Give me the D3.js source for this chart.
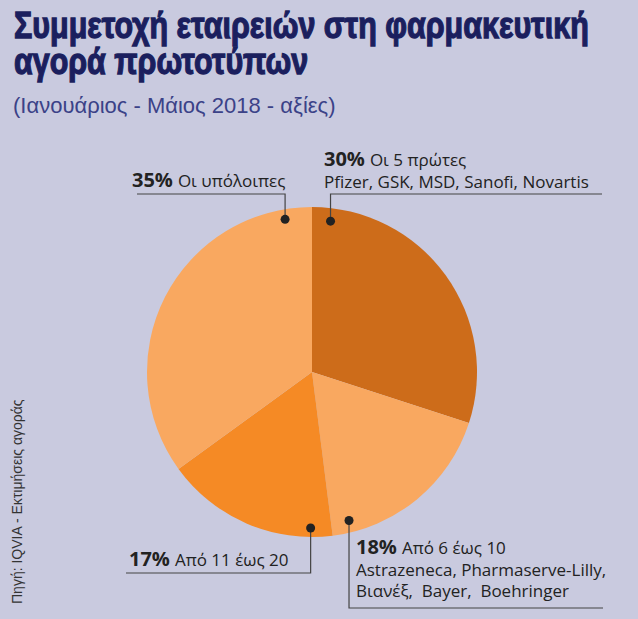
<!DOCTYPE html>
<html>
<head>
<meta charset="utf-8">
<script src="https://cdn.jsdelivr.net/npm/d3@7"></script>
<style>
  body { margin: 0; background: #c9cadf; }
  svg { display: block; }
</style>
</head>
<body>
<svg id="chart" width="638" height="619"></svg>
<script>
// slice data, clockwise from 12 o'clock
const shares = [30, 18, 17, 35];
const sliceColors = ['#cd6c1a', '#f9a860', '#f58a25', '#f9a860'];
const pctLabels = ['30%', '18%', '17%', '35%'];
const labelLines = [
    ['Οι 5 πρώτες', 'Pfizer, GSK, MSD, Sanofi, Novartis'],
    ['Από 6 έως 10', 'Astrazeneca, Pharmaserve-Lilly,', 'Βιανέξ,  Bayer,  Boehringer'],
    ['Από 11 έως 20'],
    ['Οι υπόλοιπες']
];

const titleLines = ['Συμμετοχή εταιρειών στη φαρμακευτική', 'αγορά πρωτοτύπων'];
const subtitle = '(Ιανουάριος - Μάιος 2018 - αξίες)';
const source = 'Πηγή: IQVIA - Εκτιμήσεις αγοράς';

const svg = d3.select('#chart');
const cx = 312, cy = 372, radius = 165;

svg.append('rect').attr('width', 638).attr('height', 619).attr('fill', '#c9cadf');

// title, squeezed to the width of the original condensed face
let title = svg.append('g').attr('font-family', 'Liberation Sans Narrow, sans-serif')
    .attr('font-weight', 'bold').attr('fill', '#1b1f5e')
    .attr('stroke', '#1b1f5e').attr('stroke-width', 1.3)
    .attr('font-size', 37);
titleLines.forEach((t, i) => {
    title.append('text').attr('y', 38 + i * 36).text(t);
});
let w0 = title.select('text').node().getComputedTextLength();
let sx = 575 / w0;
title.selectAll('text').attr('transform', `translate(14,0) scale(${sx},1)`);

svg.append('text')
    .attr('x', 13).attr('y', 113)
    .attr('font-family', 'Liberation Sans Narrow, sans-serif')
    .attr('font-size', 22)
    .attr('fill', '#3b4288')
    .text(subtitle);

svg.append('text')
    .attr('transform', 'translate(22,604) rotate(-90)')
    .attr('font-family', 'Liberation Sans Narrow, sans-serif')
    .attr('font-size', 14)
    .attr('fill', '#333')
    .text(source);

// pie
let pie = d3.pie().sort(null).value(d => d);
let arcs = pie(shares);
let arc = d3.arc().innerRadius(0).outerRadius(radius);

let g = svg.append('g').attr('transform', `translate(${cx},${cy})`);
g.selectAll('path')
    .data(arcs)
    .enter().append('path')
    .attr('d', arc)
    .attr('fill', (d, i) => sliceColors[i]);

// leader lines: dot inside the slice, then a vertical and a horizontal run
const leaders = [
    {ang: 7, r: 152, elbowY: 194, endX: 602},
    {ang: 166, r: 153, elbowY: 608, endX: 603},
    {ang: 180.5, r: 156, elbowY: 573, endX: 126},
    {ang: 350, r: 155, elbowY: 194, endX: 137}
];

leaders.forEach((l, i) => {
    let a = l.ang * Math.PI / 180;
    let dx = cx + l.r * Math.sin(a), dy = cy - l.r * Math.cos(a);
    svg.append('path')
        .attr('d', `M${dx},${dy}V${l.elbowY}H${l.endX}`)
        .attr('fill', 'none').attr('stroke', '#444').attr('stroke-width', 1.2);
    svg.append('circle').attr('cx', dx).attr('cy', dy).attr('r', 4.5).attr('fill', '#222');
});

// labels
const labelPos = [
    {x: 324, y: 166},
    {x: 356, y: 554},
    {x: 129, y: 566},
    {x: 132, y: 187}
];
const lineStep = 21.5;

labelPos.forEach((p, i) => {
    let offset = 0;
    let pct = svg.append('text')
        .attr('x', p.x).attr('y', p.y)
        .attr('font-family', 'Open Sans, sans-serif')
        .attr('font-weight', 'bold').attr('font-size', 20)
        .attr('fill', '#222')
        .text(pctLabels[i]);
    offset = pct.node().getComputedTextLength() + 5;
    labelLines[i].forEach((line, j) => {
        svg.append('text')
            .attr('x', j === 0 ? p.x + offset : p.x)
            .attr('y', p.y + j * lineStep)
            .attr('font-family', 'Open Sans, sans-serif')
            .attr('font-size', 17)
            .attr('fill', '#222')
            .style('white-space', 'pre')
            .text(line);
    });
});
</script>
</body>
</html>
